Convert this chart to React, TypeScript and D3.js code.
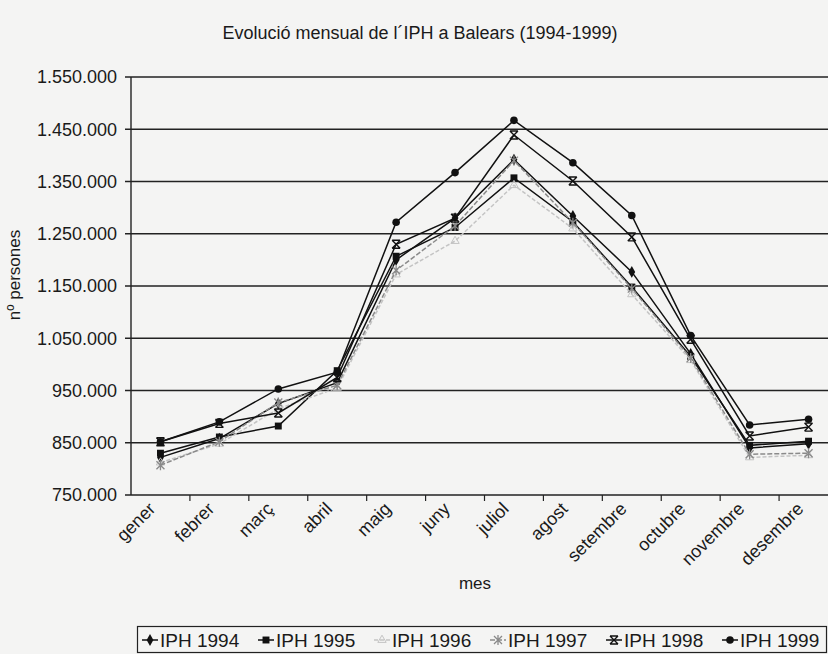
import * as d3 from "d3";

const MONTHS = ["gener", "febrer", "març", "abril", "maig", "juny", "juliol", "agost", "setembre", "octubre", "novembre", "desembre"];
const Y_TICKS = [750000, 850000, 950000, 1050000, 1150000, 1250000, 1350000, 1450000, 1550000];

const IPH_1994 = [822000, 858000, 925000, 965000, 1200000, 1280000, 1392000, 1284000, 1177000, 1020000, 840000, 848000];
const IPH_1995 = [830000, 861000, 882000, 988000, 1207000, 1262000, 1357000, 1273000, 1148000, 1015000, 845000, 853000];
const IPH_1996 = [812000, 848000, 915000, 955000, 1172000, 1236000, 1343000, 1260000, 1134000, 1008000, 822000, 826000];
const IPH_1997 = [807000, 852000, 927000, 960000, 1180000, 1265000, 1390000, 1271000, 1145000, 1012000, 828000, 830000];
const IPH_1998 = [852000, 887000, 907000, 975000, 1230000, 1280000, 1439000, 1351000, 1244000, 1048000, 863000, 880000];
const IPH_1999 = [852000, 890000, 953000, 985000, 1272000, 1367000, 1467000, 1386000, 1285000, 1055000, 884000, 895000];

const SERIES = [
  { name: "IPH 1994", values: IPH_1994, color: "#111", dash: "", marker: "diamond" },
  { name: "IPH 1995", values: IPH_1995, color: "#111", dash: "", marker: "square" },
  { name: "IPH 1996", values: IPH_1996, color: "#c4c4c4", dash: "4,2", marker: "triangle" },
  { name: "IPH 1997", values: IPH_1997, color: "#8a8a8a", dash: "5,2", marker: "star" },
  { name: "IPH 1998", values: IPH_1998, color: "#111", dash: "", marker: "xbar" },
  { name: "IPH 1999", values: IPH_1999, color: "#111", dash: "", marker: "circle" },
];

const W = 828;
const H = 654;
const PLOT = { left: 131, right: 838, top: 77, bottom: 495 };
const FONT = "'Liberation Sans', Arial, sans-serif";
const INK = "#1a1a1a";

const fmt = (v: number) => d3.format(",")(v).replace(/,/g, ".");

function Marker({ type, x, y, color }: { type: string; x: number; y: number; color: string }) {
  if (type === "diamond") {
    return <path d={d3.symbol(d3.symbolDiamond, 40)()!} transform={`translate(${x},${y})`} fill={color} />;
  }
  if (type === "square") {
    return <path d={d3.symbol(d3.symbolSquare, 48)()!} transform={`translate(${x},${y})`} fill={color} />;
  }
  if (type === "circle") {
    return <path d={d3.symbol(d3.symbolCircle, 45)()!} transform={`translate(${x},${y})`} fill={color} />;
  }
  if (type === "triangle") {
    return <path d={d3.symbol(d3.symbolTriangle, 30)()!} transform={`translate(${x},${y})`} fill="none" stroke={color} strokeWidth={1} />;
  }
  if (type === "star") {
    return <path d="M-4,-4L4,4M-4,4L4,-4M0,-5L0,5" transform={`translate(${x},${y})`} fill="none" stroke={color} strokeWidth={1.3} />;
  }
  // xbar: x with horizontal bars
  return <path d="M-4,-4L4,4M-4,4L4,-4M-4,-4L4,-4M-4,4L4,4" transform={`translate(${x},${y})`} fill="none" stroke={color} strokeWidth={1.4} />;
}

export default function App() {
  const x = d3.scaleBand<string>().domain(MONTHS).range([PLOT.left, PLOT.right]);
  const y = d3.scaleLinear().domain([750000, 1550000]).range([PLOT.bottom, PLOT.top]);
  const cx = (m: string) => (x(m) ?? 0) + x.bandwidth() / 2;

  const line = d3
    .line<number>()
    .x((_, i) => cx(MONTHS[i]))
    .y((d) => y(d));

  const legendX = [142, 258, 374, 490, 606, 722];

  return (
    <svg width={W} height={H} style={{ position: "fixed", left: 0, top: 0, display: "block", background: "#f4f4f3" }} fontFamily={FONT}>
      <rect width={W} height={H} fill="#f4f4f3" />

      {/* title */}
      <text x={420} y={39} textAnchor="middle" fontSize={18} fill={INK}>
        Evolució mensual de l´IPH a Balears (1994-1999)
      </text>

      {/* gridlines + y axis */}
      {Y_TICKS.map((t) => (
        <g key={t}>
          <line x1={PLOT.left - 6} x2={W} y1={y(t)} y2={y(t)} stroke="#222" strokeWidth={1.4} />
          <text x={117} y={y(t)} dy="0.35em" textAnchor="end" fontSize={18} fill={INK}>
            {fmt(t)}
          </text>
        </g>
      ))}
      <line x1={PLOT.left} x2={PLOT.left} y1={PLOT.top} y2={PLOT.bottom} stroke="#222" strokeWidth={1.4} />

      {/* x axis ticks */}
      {MONTHS.map((m) => (
        <line key={m} x1={x(m)! + x.bandwidth()} x2={x(m)! + x.bandwidth()} y1={PLOT.bottom} y2={PLOT.bottom + 6} stroke="#222" strokeWidth={1.2} />
      ))}
      {MONTHS.map((m) => (
        <text key={m} transform={`translate(${cx(m) - 4},${PLOT.bottom + 15}) rotate(-45)`} textAnchor="end" fontSize={18} fill={INK}>
          {m}
        </text>
      ))}

      {/* axis titles */}
      <text transform={`translate(20,275) rotate(-90)`} textAnchor="middle" fontSize={17} fill={INK}>
        nº persones
      </text>
      <text x={475} y={589} textAnchor="middle" fontSize={17} fill={INK}>
        mes
      </text>

      {/* series */}
      {SERIES.map((s) => (
        <g key={s.name}>
          <path d={line(s.values)!} fill="none" stroke={s.color} strokeWidth={1.5} strokeDasharray={s.dash} />
          {s.values.map((v, i) => (
            <Marker key={i} type={s.marker} x={cx(MONTHS[i])} y={y(v)} color={s.color} />
          ))}
        </g>
      ))}

      {/* legend */}
      <rect x={137.5} y={626.5} width={689} height={26} fill="none" stroke="#222" strokeWidth={1.2} />
      {SERIES.map((s, i) => (
        <g key={s.name} transform={`translate(${legendX[i]},640)`}>
          <line x1={0} x2={16} y1={0} y2={0} stroke={s.color} strokeWidth={1.5} strokeDasharray={s.dash} />
          <Marker type={s.marker} x={8} y={0} color={s.color} />
          <text x={18} y={0} dy="0.35em" fontSize={19} fill={INK}>
            {s.name}
          </text>
        </g>
      ))}
    </svg>
  );
}
